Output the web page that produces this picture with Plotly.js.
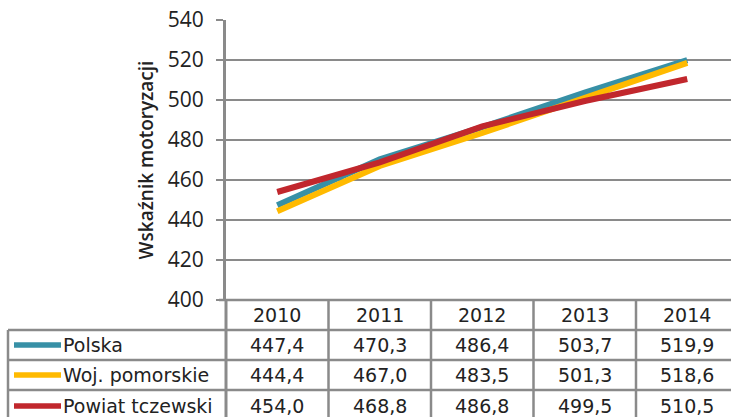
<!DOCTYPE html>
<html>
<head>
<meta charset="utf-8">
<script src="https://cdn.plot.ly/plotly-3.0.1.min.js"></script>
<style>html,body{margin:0;padding:0;background:#fff;}#chart{width:731px;height:417px;}</style>
</head>
<body>
<div id="chart"></div>
<script>
// ---- data ----
const years = ['2010', '2011', '2012', '2013', '2014'];
const polska = [447.4, 470.3, 486.4, 503.7, 519.9];
const pomorskie = [444.4, 467.0, 483.5, 501.3, 518.6];
const tczewski = [454.0, 468.8, 486.8, 499.5, 510.5];
const seriesNames = ['Polska', 'Woj. pomorskie', 'Powiat tczewski'];
const yTitle = 'Wskaźnik motoryzacji';

// ---- styles ----
const seriesValues = [polska, pomorskie, tczewski];
const seriesColors = ['#3790A6', '#FFBA00', '#C1272D'];
const gridColor = '#8a8a8a';
const textColor = '#222222';

const W = 731, H = 417;
const plotLeft = 226, plotTop = 20, plotW = W - plotLeft, plotH = 280;
const catW = 102.5;
const xRange = [-0.5, -0.5 + plotW / catW];
const yRange = [400, 540];

// pixel -> paper helpers
const xp = px => (px - plotLeft) / plotW;
const yp = py => (plotTop + plotH - py) / plotH;
const catToPaper = c => (c - xRange[0]) / (xRange[1] - xRange[0]);

const traces = seriesValues.map((vals, i) => ({
  type: 'scatter', mode: 'lines', x: years, y: vals, name: seriesNames[i],
  line: {color: seriesColors[i], width: 6}, hoverinfo: 'skip'
}));

const shapes = [];
const annotations = [];
const bottom = plotTop + plotH;
const rowEdges = [bottom, bottom + 30, bottom + 60, bottom + 90, bottom + 122];
const tableLeft = 8;
const lineStyle = {color: gridColor, width: 2.5};

// horizontal table lines
shapes.push({type: 'line', xref: 'paper', yref: 'paper', x0: xp(plotLeft - 7), x1: 1, y0: yp(rowEdges[0]), y1: yp(rowEdges[0]), line: lineStyle});
for (let r = 1; r < rowEdges.length - 1; r++) {
  shapes.push({type: 'line', xref: 'paper', yref: 'paper', x0: xp(tableLeft), x1: 1, y0: yp(rowEdges[r]), y1: yp(rowEdges[r]), line: lineStyle});
}
// vertical table lines
shapes.push({type: 'line', xref: 'paper', yref: 'paper', x0: xp(tableLeft), x1: xp(tableLeft), y0: yp(rowEdges[1]), y1: yp(rowEdges[4]), line: lineStyle});
shapes.push({type: 'line', xref: 'paper', yref: 'paper', x0: 0, x1: 0, y0: yp(rowEdges[0]), y1: yp(rowEdges[4]), line: {color: gridColor, width: 3}});
for (let k = 0; k < years.length; k++) {
  const x = catToPaper(k + 0.5);
  if (x <= 1) shapes.push({type: 'line', xref: 'paper', yref: 'paper', x0: x, x1: x, y0: yp(rowEdges[0]), y1: yp(rowEdges[4]), line: lineStyle});
}

const tableFont = {family: 'DejaVu Sans', size: 19, color: textColor};
// header
years.forEach((yr, k) => {
  annotations.push({xref: 'paper', yref: 'paper', x: catToPaper(k), y: yp((rowEdges[0] + rowEdges[1]) / 2),
    text: yr, showarrow: false, xanchor: 'center', yanchor: 'middle', font: tableFont});
});
// rows
seriesValues.forEach((vals, i) => {
  const cy = yp((rowEdges[i + 1] + rowEdges[i + 2]) / 2);
  shapes.push({type: 'line', xref: 'paper', yref: 'paper', x0: xp(14), x1: xp(61), y0: cy, y1: cy,
    line: {color: seriesColors[i], width: 5.5}});
  annotations.push({xref: 'paper', yref: 'paper', x: xp(61), y: cy, text: seriesNames[i], showarrow: false,
    xanchor: 'left', yanchor: 'middle', font: tableFont});
  vals.forEach((v, k) => {
    annotations.push({xref: 'paper', yref: 'paper', x: catToPaper(k), y: cy,
      text: v.toFixed(1).replace('.', ','), showarrow: false, xanchor: 'center', yanchor: 'middle', font: tableFont});
  });
});

const layout = {
  width: W, height: H,
  margin: {l: plotLeft, r: 0, t: plotTop, b: H - plotTop - plotH, pad: 0},
  paper_bgcolor: '#ffffff', plot_bgcolor: '#ffffff',
  showlegend: false,
  xaxis: {type: 'category', range: xRange, showticklabels: false, showgrid: false, zeroline: false, showline: false, ticks: ''},
  yaxis: {
    range: yRange, dtick: 20, tick0: 400, showline: true, linecolor: gridColor, linewidth: 3,
    showgrid: true, gridcolor: gridColor, gridwidth: 2.5, zeroline: false,
    ticks: 'outside', ticklen: 7, tickwidth: 2.5, tickcolor: gridColor,
    ticklabelstandoff: 8,
    tickfont: {family: 'Open Sans', size: 21, color: textColor},
    title: {text: yTitle, standoff: 10, font: {family: 'Open Sans', size: 19, color: textColor, weight: 600}},
    automargin: false
  },
  shapes: shapes,
  annotations: annotations
};

Plotly.newPlot('chart', traces, layout, {displayModeBar: false, staticPlot: true});
</script>
</body>
</html>
